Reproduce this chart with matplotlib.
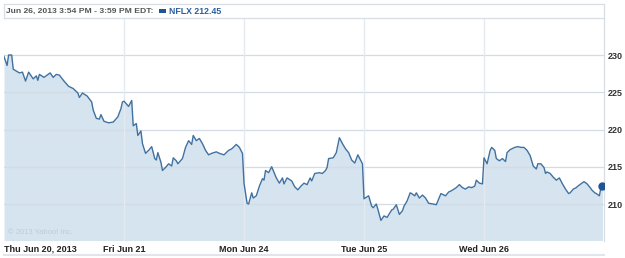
import matplotlib
matplotlib.use("Agg")
import matplotlib.pyplot as plt
import numpy as np

# NFLX 5-day intraday, minutes after 9:30 open for each session
days = ["Thu Jun 20, 2013", "Fri Jun 21", "Mon Jun 24", "Tue Jun 25", "Wed Jun 26"]
session_len = 390

day1_min = [0, 10, 15, 25, 30, 50, 60, 70, 80, 95, 105, 110, 115, 130, 150, 160, 170, 180,
            195, 210, 225, 240, 245, 255, 270, 285, 290, 300, 310, 315, 325, 340, 355, 370, 380, 385]
day1_px = [229.8, 228.6, 230.0, 230.0, 228.1, 227.6, 227.7, 226.5, 227.7, 226.8, 227.2, 226.6,
           227.4, 227.0, 227.6, 227.0, 227.4, 227.3, 226.5, 225.8, 225.5, 224.9, 224.3, 224.9,
           224.5, 223.7, 222.6, 221.5, 221.4, 222.0, 221.1, 220.9, 221.0, 221.7, 222.8, 223.7]

day2_min = [0, 15, 25, 30, 40, 45, 55, 60, 70, 80, 90, 100, 105, 110, 120, 125, 135, 145, 155,
            160, 170, 175, 190, 200, 210, 220, 225, 235, 245, 255, 265, 275, 285, 300, 310, 325,
            340, 350, 365, 375, 385]
day2_px = [223.8, 223.1, 223.9, 220.5, 220.8, 219.2, 219.8, 218.1, 216.8, 217.2, 217.7, 216.1,
           215.9, 216.9, 215.6, 214.5, 214.9, 215.4, 215.1, 216.2, 215.8, 215.4, 216.1, 217.6,
           218.5, 218.0, 219.2, 218.5, 218.8, 218.1, 217.2, 216.6, 216.8, 217.0, 216.8, 216.6,
           217.2, 217.4, 218.0, 217.6, 216.8]

day3_min = [0, 10, 15, 25, 30, 40, 50, 60, 65, 70, 80, 90, 95, 105, 115, 125, 130, 140, 155,
            165, 175, 185, 195, 205, 215, 220, 230, 245, 255, 265, 270, 275, 290, 300, 310, 320,
            330, 340, 350, 360, 370, 380, 385]
day3_px = [212.8, 210.1, 210.0, 211.5, 210.8, 211.1, 212.4, 213.4, 213.2, 214.5, 214.2, 215.0,
           214.5, 213.5, 212.8, 213.5, 212.7, 213.5, 213.1, 212.3, 211.9, 212.4, 212.8, 212.6,
           213.5, 213.1, 214.1, 214.2, 214.1, 214.5, 214.9, 216.1, 216.2, 216.9, 218.9, 218.1,
           217.4, 216.9, 215.9, 215.5, 216.6, 215.8, 215.4]

day4_min = [0, 15, 25, 30, 40, 45, 55, 65, 75, 90, 95, 105, 115, 125, 130, 140, 150, 155, 165,
            170, 180, 190, 200, 210, 225, 235, 250, 260, 265, 275, 285, 300, 310, 320, 330, 340,
            350, 360, 365, 375, 385]
day4_px = [210.7, 211.1, 209.7, 209.5, 210.0, 209.3, 207.8, 208.4, 208.2, 209.2, 209.3, 209.9,
           208.6, 209.1, 209.7, 210.4, 211.5, 211.4, 211.1, 211.5, 210.8, 211.2, 210.8, 210.1,
           210.0, 209.9, 211.4, 211.2, 211.1, 211.6, 211.8, 212.2, 212.6, 212.2, 212.0, 212.3,
           212.2, 212.4, 213.2, 212.8, 212.7]

day5_min = [0, 10, 20, 25, 35, 40, 50, 60, 70, 75, 85, 90, 100, 110, 120, 130, 140, 150, 160,
            165, 170, 175, 185, 195, 200, 205, 215, 225, 235, 245, 255, 265, 275, 280, 290, 300,
            305, 315, 325, 335, 345, 350, 360, 365, 375, 380, 385]
day5_px = [216.2, 215.4, 217.2, 217.6, 217.2, 216.1, 215.8, 216.1, 215.7, 216.9, 217.3, 217.4,
           217.6, 217.7, 217.6, 217.6, 217.2, 216.5, 215.1, 214.9, 214.7, 215.4, 215.4, 214.9,
           214.1, 214.3, 214.1, 213.6, 213.2, 213.5, 212.7, 212.0, 211.4, 211.5, 212.0, 212.2,
           212.4, 212.7, 213.0, 212.7, 212.2, 211.9, 211.5, 211.4, 211.1, 212.2, 212.45]

y_ticks = [210, 215, 220, 225, 230]
header = "Jun 26, 2013 3:54 PM - 3:59 PM EDT:"
legend_label = "NFLX 212.45"

mins = [day1_min, day2_min, day3_min, day4_min, day5_min]
pxs = [day1_px, day2_px, day3_px, day4_px, day5_px]
x = np.concatenate([np.array(m) + i * session_len for i, m in enumerate(mins)])
y = np.concatenate([np.array(p) for p in pxs])

plt.rcParams["font.family"] = ["Liberation Sans", "DejaVu Sans"]

W, H = 625, 258
fig = plt.figure(figsize=(W / 100, H / 100), dpi=100)
ax = fig.add_axes([4 / W, (H - 240.5) / H, 600 / W, (240.5 - 18) / H])

ymin, ymax = 205.1, 234.97
ax.set_xlim(0, 5 * session_len)
ax.set_ylim(ymin, ymax)

ax.fill_between(x, y, ymin, color="#d6e4f0", lw=0, zorder=1)
ax.plot(x, y, color="#41719f", lw=1.0, zorder=3)
ax.plot(x[-1], y[-1], "o", color="#1f5594", ms=5, zorder=4)

for t in y_ticks:
    ax.axhline(t, color="#d2dce6", lw=0.9, zorder=2)
for i in range(1, 5):
    ax.axvline(i * session_len, color="#e4eaf0", lw=1.0, zorder=2)

for s in ["top", "left", "bottom"]:
    ax.spines[s].set_visible(False)
ax.spines["right"].set_color("#d8dee4")
ax.spines["right"].set_linewidth(0.9)

ax.yaxis.tick_right()
ax.set_yticks(y_ticks)
ax.set_yticklabels([str(t) for t in y_ticks], fontsize=6.5, color="#333333", fontweight="bold")
ax.tick_params(axis="y", length=0, pad=3)

ax.set_xticks([i * session_len for i in range(5)])
ax.set_xticklabels(days, fontsize=6.5, color="#222222", fontweight="bold")
ax.tick_params(axis="x", length=0, pad=3)
ax.get_xticklabels()[0].set_ha("left")

ax.text(0.007, 0.018, "\u00a9 2013 Yahoo! Inc.", transform=ax.transAxes, fontsize=5.5,
        color="#bccbdb", va="bottom", ha="left")

# header strip with legend
hdr = fig.add_axes([4 / W, (H - 18) / H, 600 / W, 14 / H])
hdr.set_xticks([])
hdr.set_yticks([])
for s in hdr.spines.values():
    s.set_color("#d8dee4")
    s.set_linewidth(0.9)
hdr.text(2 / 600, 0.5, header, transform=hdr.transAxes, fontsize=6.1, color="#555555",
         fontweight="bold", va="center", ha="left")
hdr.add_patch(plt.Rectangle((155 / 600, 0.38), 7 / 600, 0.24, transform=hdr.transAxes,
                            color="#1f5594", lw=0))
hdr.text(165 / 600, 0.5, legend_label, transform=hdr.transAxes, fontsize=6.3, color="#2a5f9e",
         fontweight="bold", va="center", ha="left")

# bottom rule
fig.add_artist(plt.Line2D([4 / W, 604 / W], [(H - 255) / H] * 2, color="#e2e6ea", lw=1.5))

fig.savefig("out.png", dpi=100)
